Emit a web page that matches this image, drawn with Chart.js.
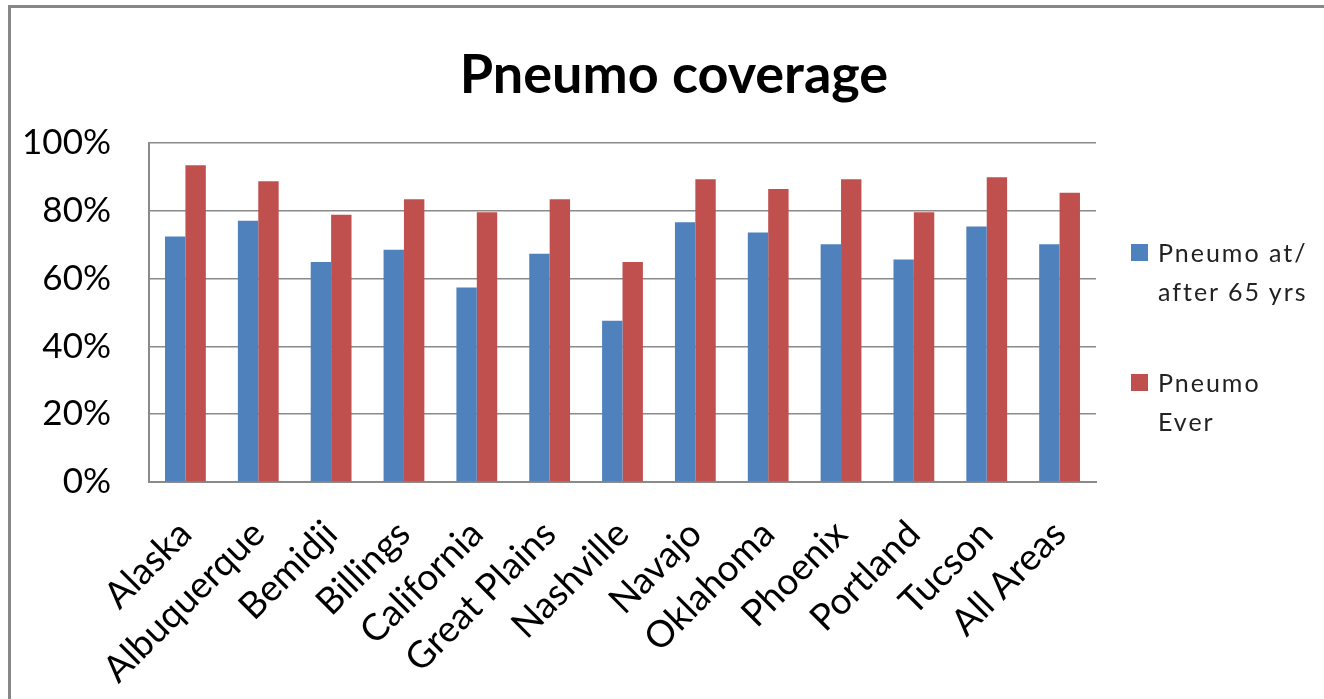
<!DOCTYPE html>
<html>
<head>
<meta charset="utf-8">
<script src="https://cdn.jsdelivr.net/npm/chart.js@4"></script>
<style>
  html, body { margin: 0; padding: 0; background: #fff; }
  #wrap { position: relative; width: 1324px; height: 699px; overflow: hidden; font-family: Lato, "Open Sans", sans-serif; }
  #frame { position: absolute; left: 8px; top: 5px; right: -10px; bottom: -10px; border-top: 3px solid #888; border-left: 3px solid #888; }
  #title { position: absolute; left: 0; width: 1348px; top: 40px; text-align: center; font-weight: bold; font-size: 54px; color: #000; }
  .leg { position: absolute; left: 1131px; font-size: 25px; letter-spacing: 2px; line-height: 39px; color: #222; }
  .leg i { position: absolute; left: 0; top: 11px; width: 17px; height: 17px; }
  .leg span { display: block; margin-left: 27px; }
  canvas { position: absolute; left: 0; top: 0; }
</style>
</head>
<body>
<div id="wrap">
  <div id="frame"></div>
  <canvas id="chart" width="1324" height="699"></canvas>
  <div id="title">Pneumo coverage</div>
  <div class="leg" style="top:233px"><i style="background:#4F81BD"></i><span>Pneumo at/<br>after 65 yrs</span></div>
  <div class="leg" style="top:363px"><i style="background:#C0504D"></i><span>Pneumo<br>Ever</span></div>
</div>
<script>
// data
const areas = ["Alaska", "Albuquerque", "Bemidji", "Billings", "California", "Great Plains",
  "Nashville", "Navajo", "Oklahoma", "Phoenix", "Portland", "Tucson", "All Areas"];
const at65 = [72.4, 77.1, 64.9, 68.5, 57.4, 67.3, 47.6, 76.6, 73.6, 70.1, 65.6, 75.4, 70.1];
const ever = [93.4, 88.7, 78.8, 83.4, 79.6, 83.4, 64.9, 89.3, 86.4, 89.3, 79.6, 89.9, 85.3];
const seriesNames = ["Pneumo at/ after 65 yrs", "Pneumo Ever"];
const yTicks = [0, 20, 40, 60, 80, 100];

const gridGray = "#8a8a8a";

new Chart(document.getElementById("chart"), {
  type: "bar",
  data: {
    labels: areas,
    datasets: [
      { label: seriesNames[0], data: at65, backgroundColor: "#4F81BD" },
      { label: seriesNames[1], data: ever, backgroundColor: "#C0504D" }
    ]
  },
  options: {
    responsive: false,
    animation: false,
    layout: { padding: { top: 143, right: 228, left: 0, bottom: 0 } },
    datasets: { bar: { categoryPercentage: 0.56, barPercentage: 1.0 } },
    plugins: {
      legend: { display: false },
      title: { display: false },
      tooltip: { enabled: false }
    },
    scales: {
      x: {
        grid: { display: false },
        border: { display: true, color: gridGray, width: 2 },
        ticks: {
          color: "#000",
          font: { family: "Lato", size: 37 },
          minRotation: 45,
          maxRotation: 45,
          autoSkip: false,
          padding: 22
        },
        afterFit: (s) => { s.height = 217; }
      },
      y: {
        min: 0,
        max: 100,
        afterBuildTicks: (s) => { s.ticks = yTicks.map(v => ({ value: v })); },
        grid: { color: gridGray, lineWidth: 1.5, drawTicks: false },
        border: { display: true, color: gridGray, width: 2 },
        ticks: {
          color: "#000",
          font: { family: "Lato", size: 35 },
          padding: 38,
          callback: (v) => v + "%"
        },
        afterFit: (s) => { s.width = 149; }
      }
    }
  }
});
</script>
</body>
</html>
